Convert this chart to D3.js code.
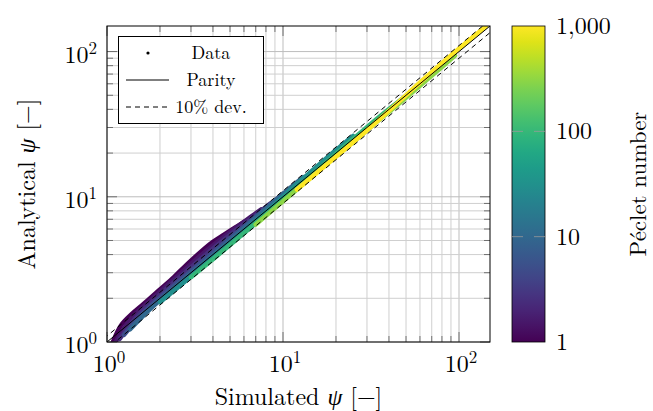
<!DOCTYPE html>
<html>
<head>
<meta charset="utf-8">
<script src="https://cdn.jsdelivr.net/npm/d3@7"></script>
<style>
  body { margin: 0; background: #fff; }
  svg { display: block; }
</style>
</head>
<body>
<div id="chart"></div>
<script>
// Peclet number of each group of runs
const peclet = [1, 1.5, 2.5, 5, 10, 30, 100, 300, 1000];

// simulated psi, one list per Peclet group
const simulated = [
  [1.08, 1.2, 1.4, 1.7, 2.0, 2.4, 2.8, 3.2, 3.6, 4.0, 4.6, 5.3, 6.0],
  [1.12, 1.35, 1.8, 2.5, 3.5, 4.5, 5.5, 6.5, 7.5],
  [1.18, 1.5, 2, 3, 4, 5.5, 7, 8.5],
  [1.25, 1.6, 2.2, 3.2, 4.5, 6, 8, 10],
  [1.35, 1.8, 2.5, 3.5, 5, 7, 9, 11, 13],
  [2, 3, 4.5, 6.5, 9, 12, 16, 20, 25],
  [3, 5, 8, 12, 18, 25, 35, 45, 55],
  [7, 10, 14, 22, 32, 45, 60, 80, 95],
  [12, 16, 22, 32, 45, 60, 80, 105, 130, 142]
];

// analytical psi, same layout
const analytical = [
  [1.0, 1.3, 1.58, 1.93, 2.3, 2.8, 3.36, 3.9, 4.43, 4.9, 5.47, 6.10, 6.72],
  [1.0, 1.42, 1.98, 2.83, 4.06, 5.18, 6.22, 7.22, 8.18],
  [1.05, 1.53, 2.12, 3.27, 4.40, 6.00, 7.49, 9.01],
  [1.12, 1.58, 2.24, 3.30, 4.68, 6.24, 8.40, 10.5],
  [1.22, 1.73, 2.45, 3.47, 5.0, 7.14, 9.36, 11.55, 13.65],
  [1.88, 2.82, 4.28, 6.31, 8.91, 12.24, 16.64, 21.0, 26.25],
  [2.79, 4.65, 7.52, 11.52, 17.64, 25.0, 35.35, 45.0, 53.9],
  [6.44, 9.30, 13.16, 20.9, 30.72, 43.2, 58.2, 78.4, 94.05],
  [11.22, 15.04, 20.79, 30.72, 44.55, 61.2, 83.2, 110.25, 136.5, 148.4]
];

const psiDomain = [1, 150];
const pecletDomain = [1, 1000];
const pecletTicks = [1, 10, 100, 1000];
const decades = [1, 10, 100];
const deviation = 0.1;
const legendItems = ["Data", "Parity", "10% dev."];

const width = 653, height = 411;
const plot = { left: 107, right: 490, top: 26, bottom: 342 };
const bar = { left: 512, right: 545 };

const svg = d3.select("#chart").append("svg")
  .attr("width", width)
  .attr("height", height)
  .attr("font-family", "'Latin Modern Roman', 'Liberation Serif', serif");

const x = d3.scaleLog().domain(psiDomain).range([plot.left, plot.right]);
const y = d3.scaleLog().domain(psiDomain).range([plot.bottom, plot.top]);
const color = d3.scaleSequentialLog(d3.interpolateViridis).domain(pecletDomain);

// grid
const grid = svg.append("g");
grid.selectAll(".gx").data(x.ticks()).join("line")
  .attr("x1", d => x(d)).attr("x2", d => x(d))
  .attr("y1", plot.top).attr("y2", plot.bottom)
  .attr("stroke", d => decades.includes(d) ? "#bdbdbd" : "#cfcfcf")
  .attr("stroke-width", 1);
grid.selectAll(".gy").data(y.ticks()).join("line")
  .attr("y1", d => y(d)).attr("y2", d => y(d))
  .attr("x1", plot.left).attr("x2", plot.right)
  .attr("stroke", d => decades.includes(d) ? "#bdbdbd" : "#cfcfcf")
  .attr("stroke-width", 1);

svg.append("clipPath").attr("id", "clip")
  .append("rect")
  .attr("x", plot.left).attr("y", plot.top)
  .attr("width", plot.right - plot.left).attr("height", plot.bottom - plot.top);

const body = svg.append("g").attr("clip-path", "url(#clip)");

// data bands, one per Peclet group
const line = d3.line()
  .x(d => x(d[0]))
  .y(d => y(d[1]))
  .curve(d3.curveCatmullRom);

peclet.forEach((pe, i) => {
  const pts = simulated[i].map((s, j) => [s, analytical[i][j]]);
  body.append("path")
    .datum(pts)
    .attr("d", line)
    .attr("fill", "none")
    .attr("stroke", color(pe))
    .attr("stroke-width", 4.5)
    .attr("stroke-linecap", "round")
    .attr("stroke-linejoin", "round");
});

// parity and +-10% lines
const ref = [0.8, 200];
body.append("path")
  .datum(ref.map(v => [v, v]))
  .attr("d", d3.line().x(d => x(d[0])).y(d => y(d[1])))
  .attr("stroke", "#000").attr("stroke-width", 1).attr("fill", "none");
[1 + deviation, 1 - deviation].forEach(f => {
  body.append("path")
    .datum(ref.map(v => [v, v * f]))
    .attr("d", d3.line().x(d => x(d[0])).y(d => y(d[1])))
    .attr("stroke", "#000").attr("stroke-width", 1)
    .attr("stroke-dasharray", "5,4").attr("fill", "none");
});

// ticks on all four sides, inside
const ticks = svg.append("g").attr("stroke", "#555").attr("stroke-width", 0.8);
x.ticks().forEach(v => {
  const len = decades.includes(v) ? 10 : 6;
  ticks.append("line").attr("x1", x(v)).attr("x2", x(v)).attr("y1", plot.bottom).attr("y2", plot.bottom - len);
  ticks.append("line").attr("x1", x(v)).attr("x2", x(v)).attr("y1", plot.top).attr("y2", plot.top + len);
});
y.ticks().forEach(v => {
  const len = decades.includes(v) ? 10 : 6;
  ticks.append("line").attr("y1", y(v)).attr("y2", y(v)).attr("x1", plot.left).attr("x2", plot.left + len);
  ticks.append("line").attr("y1", y(v)).attr("y2", y(v)).attr("x1", plot.right).attr("x2", plot.right - len);
});

svg.append("rect")
  .attr("x", plot.left).attr("y", plot.top)
  .attr("width", plot.right - plot.left).attr("height", plot.bottom - plot.top)
  .attr("fill", "none").attr("stroke", "#000").attr("stroke-width", 1);

// tick labels 10^n
function power(sel, v) {
  const n = Math.round(Math.log10(v));
  sel.append("tspan").text("10");
  sel.append("tspan").attr("dy", -9).attr("font-size", 17).text(n);
}
decades.forEach(v => {
  svg.append("text")
    .attr("x", x(v) + 2).attr("y", plot.bottom + 30)
    .attr("text-anchor", "middle").attr("font-size", 24)
    .call(power, v);
  svg.append("text")
    .attr("x", 97).attr("y", y(v) + 11)
    .attr("text-anchor", "end").attr("font-size", 24)
    .call(power, v);
});

// axis titles
const xt = svg.append("text")
  .attr("x", (plot.left + plot.right) / 2).attr("y", 405)
  .attr("text-anchor", "middle").attr("font-size", 24);
xt.append("tspan").text("Simulated ");
xt.append("tspan").attr("font-style", "italic").text("ψ");
xt.append("tspan").text(" [−]");

const yt = svg.append("text")
  .attr("transform", `translate(35,${(plot.top + plot.bottom) / 2}) rotate(-90)`)
  .attr("text-anchor", "middle").attr("font-size", 24);
yt.append("tspan").text("Analytical ");
yt.append("tspan").attr("font-style", "italic").text("ψ");
yt.append("tspan").text(" [−]");

// legend
const lg = svg.append("g");
lg.append("rect")
  .attr("x", 118.5).attr("y", 36.5).attr("width", 145).attr("height", 87)
  .attr("fill", "#fff").attr("stroke", "#000").attr("stroke-width", 1);
legendItems.forEach((t, i) => {
  const cy = 53 + i * 27;
  if (i === 0) {
    lg.append("circle").attr("cx", 148).attr("cy", cy).attr("r", 1.6).attr("fill", "#000");
  } else {
    lg.append("line").attr("x1", 126).attr("x2", 169).attr("y1", cy).attr("y2", cy)
      .attr("stroke", "#000").attr("stroke-width", 1)
      .attr("stroke-dasharray", i === 2 ? "5,4" : null);
  }
  lg.append("text")
    .attr("x", 211).attr("y", cy + 6)
    .attr("text-anchor", "middle").attr("font-size", 18)
    .text(t);
});

// colorbar
const cb = d3.scaleLog().domain(pecletDomain).range([plot.bottom, plot.top]);
const grad = svg.append("defs").append("linearGradient")
  .attr("id", "viridis").attr("x1", 0).attr("y1", 1).attr("x2", 0).attr("y2", 0);
d3.range(0, 1.0001, 0.05).forEach(t => {
  grad.append("stop").attr("offset", t).attr("stop-color", d3.interpolateViridis(t));
});
svg.append("rect")
  .attr("x", bar.left).attr("y", plot.top)
  .attr("width", bar.right - bar.left).attr("height", plot.bottom - plot.top)
  .attr("fill", "url(#viridis)").attr("stroke", "#000").attr("stroke-width", 0.8);
pecletTicks.forEach(v => {
  if (v !== 1 && v !== 1000) {
    [[bar.left, bar.left + 11], [bar.right - 11, bar.right]].forEach(([a, b]) => {
      svg.append("line").attr("x1", a).attr("x2", b).attr("y1", cb(v)).attr("y2", cb(v))
        .attr("stroke", "#999").attr("stroke-width", 0.8);
    });
  }
  svg.append("text")
    .attr("x", bar.right + 11).attr("y", cb(v) + 8)
    .attr("font-size", 24)
    .text(d3.format(",")(v));
});
svg.append("text")
  .attr("transform", `translate(646,${(plot.top + plot.bottom) / 2}) rotate(-90)`)
  .attr("text-anchor", "middle").attr("font-size", 23)
  .text("Péclet number");
</script>
</body>
</html>
